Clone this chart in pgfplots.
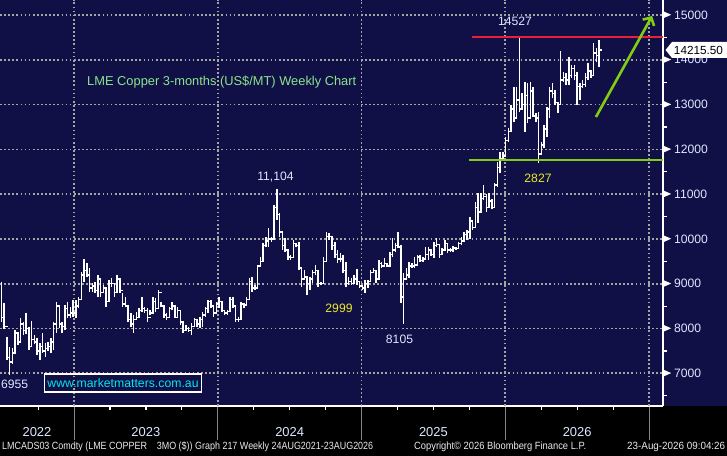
\documentclass[border=0pt]{standalone}
\usepackage{fontspec}
\setmainfont{Liberation Sans}
\usepackage{graphicx}
\usepackage{pgfplots}
\pgfplotsset{compat=1.18}
\usepackage{pgfplotstable}
\usetikzlibrary{arrows.meta}

\definecolor{navy}{RGB}{16,15,70}
\definecolor{gridgray}{RGB}{165,165,165}
\definecolor{lbl}{RGB}{222,232,255}
\definecolor{anngreen}{RGB}{140,228,140}
\definecolor{annyellow}{RGB}{235,235,40}
\definecolor{cyanw}{RGB}{0,232,240}
\definecolor{resred}{RGB}{235,30,60}
\definecolor{supgreen}{RGB}{130,205,20}
\definecolor{foot}{RGB}{235,235,235}

\pgfdeclareplotmark{rtick}{\pgfpathmoveto{\pgfpoint{-0.7bp}{0pt}}\pgfpathlineto{\pgfpoint{2.5bp}{0pt}}\pgfusepathqstroke}
\pgfdeclareplotmark{ltick}{\pgfpathmoveto{\pgfpoint{0.7bp}{0pt}}\pgfpathlineto{\pgfpoint{-2.5bp}{0pt}}\pgfusepathqstroke}

\newcommand\tri{\tikz[baseline={(0,-0.9bp)}]\fill[white] (0,0)--(8bp,3.5bp)--(0,7bp)--cycle;}
\newcommand\fs{\fontsize{12.2}{12.2}\selectfont}
\tikzset{gridline/.style={gridgray, line width=1.7bp, dash pattern=on 1.7bp off 2.4bp}}

\pgfplotstableread{
i h l c
0 9040 8150 8250
1 8570 8000 8050
2 7810 7300 7350
3 7590 6955 7250
4 7560 7200 7450
5 7960 7450 7900
6 7920 7630 7700
7 8230 7700 8100
8 8150 7860 7950
9 8340 7880 8000
10 8030 7520 7600
11 8160 7600 7750
12 7860 7650 7700
13 7790 7410 7500
14 7680 7300 7600
15 7900 7450 7500
16 7680 7360 7550
17 7700 7500 7600
18 7790 7450 7700
19 8150 7520 8100
20 8600 7900 8500
21 8500 8010 8100
22 8150 7900 8050
23 8520 7960 8450
24 8600 8230 8300
25 8490 8230 8350
26 8640 8260 8350
27 8640 8230 8500
28 8700 8450 8650
29 9260 8640 9200
30 9550 9040 9300
31 9460 9150 9200
32 9350 8820 8900
33 9020 8820 8950
34 9040 8790 8850
35 9190 8700 9100
36 9080 8700 8800
37 8970 8790 8900
38 8900 8480 8600
39 9080 8600 9000
40 9130 8930 9000
41 9020 8700 8800
42 9190 8790 9100
43 9080 8790 8850
44 8790 8480 8550
45 8700 8480 8500
46 8520 8150 8200
47 8340 8030 8100
48 8300 7900 8200
49 8370 8190 8250
50 8460 8260 8400
51 8700 8370 8450
52 8480 8340 8400
53 8460 8150 8250
54 8410 8300 8350
55 8700 8370 8600
56 8680 8370 8450
57 8860 8460 8800
58 8590 8480 8500
59 8500 8230 8300
60 8340 8190 8250
61 8480 8230 8450
62 8590 8410 8500
63 8500 8230 8250
64 8480 8235 8400
65 8400 8080 8150
66 8150 7900 7950
67 8080 7970 8000
68 8030 7920 7950
69 8120 7855 8050
70 8230 8030 8200
71 8200 8030 8100
72 8260 8010 8200
73 8370 8030 8300
74 8480 8260 8450
75 8640 8350 8600
76 8640 8460 8500
77 8500 8260 8350
78 8590 8350 8550
79 8700 8460 8600
80 8600 8370 8400
81 8400 8300 8350
82 8410 8300 8380
83 8700 8370 8650
84 8700 8460 8500
85 8525 8146 8200
86 8250 8150 8200
87 8590 8200 8550
88 8570 8460 8520
89 8700 8500 8650
90 9128 8650 9050
91 9150 8815 8900
92 8970 8860 8900
93 9420 8900 9400
94 9600 9374 9500
95 9910 9500 9850
96 10044 9820 9950
97 10245 9820 10000
98 10040 9930 10000
99 10760 10000 10700
100 11104 10420 10550
101 10580 10044 10150
102 10150 9754 9850
103 10022 9709 9750
104 9753 9530 9600
105 9650 9530 9580
106 9977 9580 9900
107 9900 9810 9850
108 9933 9307 9350
109 9351 8927 9100
110 9307 9084 9150
111 9150 8748 9000
112 9150 8860 9100
113 9307 9017 9250
114 9418 9196 9300
115 9300 8927 9000
116 9040 8972 9000
117 9597 9000 9500
118 10155 9485 10050
119 10133 9977 10050
120 10050 9754 9850
121 9933 9575 9650
122 9754 9463 9550
123 9687 9485 9550
124 9650 9240 9300
125 9485 8927 9000
126 9150 8972 9050
127 9128 8972 9000
128 9196 9000 9100
129 9330 8972 9050
130 9060 8905 8950
131 8972 8860 8900
132 9084 8793 9000
133 9084 8905 9050
134 9307 9050 9250
135 9351 9240 9300
136 9307 9017 9100
137 9530 9084 9450
138 9485 9351 9400
139 9575 9374 9450
140 9463 9374 9400
141 9700 9380 9650
142 10022 9600 9750
143 9900 9700 9850
144 10155 9800 9820
145 9860 8570 8700
146 9240 8105 9100
147 9350 9100 9200
148 9485 9128 9400
149 9463 9351 9400
150 9597 9351 9420
151 9642 9420 9600
152 9642 9485 9520
153 9600 9485 9550
154 9820 9530 9650
155 9820 9530 9750
156 9750 9620 9650
157 9933 9575 9850
158 10022 9820 9880
159 9880 9575 9650
160 9800 9650 9750
161 9977 9750 9900
162 9900 9687 9750
163 9798 9709 9750
164 9842 9709 9800
165 9820 9754 9790
166 9933 9790 9900
167 10044 9865 9950
168 10155 9933 10100
169 10200 9977 10150
170 10490 10000 10400
171 10400 10200 10250
172 10826 10245 10700
173 11028 10356 10600
174 11028 10580 10900
175 11206 10871 10950
176 11000 10600 10700
177 11028 10690 10850
178 10900 10670 10700
179 11250 10700 11200
180 11720 11160 11600
181 11943 11474 11800
182 11943 11800 11850
183 12276 11850 12200
184 12477 12164 12400
185 12990 12387 12900
186 13392 12611 12700
187 13392 12700 13100
188 14527 12834 12900
189 13258 12879 13000
190 13504 12387 13200
191 13482 12588 12700
192 13504 12700 13300
193 13392 12722 12750
194 12812 12611 12700
195 12834 11700 11900
196 12164 11900 12100
197 12544 12030 12450
198 12946 12276 12900
199 13392 12700 13300
200 13482 13147 13250
201 13325 12990 13050
202 13057 12812 13000
203 14196 13000 13550
204 13727 13504 13600
205 13705 13437 13550
206 14062 13437 13650
207 13883 13593 13800
208 13883 13549 13650
209 13727 12990 13400
210 13482 13102 13400
211 13549 13370 13450
212 13705 13392 13600
213 13928 13549 13750
214 13727 13593 13650
215 14375 13650 14150
216 14263 13951 14100
217 14442 13839 14215.5
}\bars

\begin{document}
\begin{tikzpicture}[x=1bp,y=1bp]
\fill[black] (0,0) rectangle (727,456);
\fill[navy] (0,50) rectangle (727,456);
% year separators below the axis
\foreach \xx in {74.05,217.8,361.55,505.3,649.05}{\draw[gridgray!80!black, line width=1bp] (\xx,50) -- (\xx,16);}
\begin{axis}[
  at={(0bp,50bp)}, anchor=south west,
  scale only axis, width=663bp, height=406bp,
  xmin=-0.508, xmax=240.15,
  ymin=6270, ymax=15335,
  axis x line*=bottom, axis y line*=right,
  axis line style={-, white, line width=1.3bp},
  tick align=outside,
  major tick length=0bp,
  minor tick length=4bp,
  minor tick style={white, line width=1.2bp},
  xtick={12.92,52.45,104.64,156.81,209.0},
  xticklabels={2022,2023,2024,2025,2026},
  minor xtick={13.33,39.42,52.46,65.51,91.6,104.64,117.69,143.78,156.82,169.87,195.95,209.0,222.04},
  ytick={7000,8000,...,15000},
  minor ytick={6500,7500,...,14500},
  scaled y ticks=false,
  yticklabel={\tri\hspace{3bp}\pgfmathprintnumber{\tick}},
  yticklabel style={font=\fs, text=lbl, anchor=west, inner sep=0pt,
    /pgf/number format/1000 sep={}, /pgf/number format/fixed, /pgf/number format/assume math mode=true},
  xticklabel style={font=\fontsize{13}{13}\selectfont, text=lbl, anchor=center, yshift=-26bp},
]
\pgfplotsinvokeforeach{7000,8000,9000,10000,11000,12000,13000,14000,15000}{
  \draw[gridline] (axis cs:-0.508,#1) -- (axis cs:240.15,#1);
}
\pgfplotsinvokeforeach{26.37,78.55,130.73,182.91,235.09}{
  \draw[gridline] (axis cs:#1,6270) -- (axis cs:#1,15335);
}
\addplot[only marks, mark=rtick, mark options={white, solid, line width=1.5bp},
  error bars/.cd, y dir=both, y explicit, error mark=none,
  error bar style={white, solid, line width=1.5bp}]
  table[x=i, y=c, y error plus expr=\thisrow{h}-\thisrow{c}, y error minus expr=\thisrow{c}-\thisrow{l}] {\bars};
\addplot[only marks, mark=ltick, mark options={white, solid, line width=1.5bp},
  skip coords between index={217}{218}]
  table[x expr=\thisrow{i}+1, y=c] {\bars};
\addplot[resred, line width=2bp] coordinates {(170.8,14500) (240.15,14500)};
\addplot[supgreen, line width=2.4bp] coordinates {(169.7,11762) (240.15,11762)};
\addplot[supgreen, line width=2.6bp, -{Straight Barb[length=6bp,width=13bp]}] coordinates {(215.8,12722) (236.2,14978)};
\end{axis}
% price box
\fill[white] (665.5,406)--(672,414)--(727,414)--(727,398)--(672,398)--cycle;
\node[text=black, font=\fontsize{11.8}{12}\selectfont, inner sep=0] at (698.5,406) {14215.50};
% annotations
\node[text=anngreen, font=\fontsize{12.9}{13}\selectfont, anchor=west, inner sep=0] at (87,374) {LME Copper 3-months (US\$/MT) Weekly Chart};
\node[text=lbl, font=\fs, inner sep=0] at (515,435) {14527};
\node[text=lbl, font=\fs, inner sep=0] at (275.5,279) {11,104};
\node[text=annyellow, font=\fs, inner sep=0] at (339,148) {2999};
\node[text=lbl, font=\fs, inner sep=0] at (399.5,117) {8105};
\node[text=annyellow, font=\fs, inner sep=0] at (538,278) {2827};
\node[text=lbl, font=\fs, anchor=west, inner sep=0] at (1,72) {6955};
\draw[white, line width=1.2bp] (44.5,64) rectangle (201.5,82);
\node[text=cyanw, font=\fontsize{12.3}{12.3}\selectfont, inner sep=0] at (123,73) {www.marketmatters.com.au};
% footer
\node[text=foot, font=\fontsize{10.5}{11}\selectfont, anchor=west, inner sep=0] at (2,9) {\resizebox{371bp}{\height}{LMCADS03 Comdty (LME COPPER\hspace{1.1em}3MO (\$)) Graph 217 Weekly 24AUG2021-23AUG2026}};
\node[text=foot, font=\fontsize{10.5}{11}\selectfont, anchor=west, inner sep=0] at (414,9) {\resizebox{172bp}{\height}{Copyright© 2026 Bloomberg Finance L.P.}};
\node[text=foot, font=\fontsize{10.5}{11}\selectfont, anchor=west, inner sep=0] at (627,9) {\resizebox{98bp}{\height}{23-Aug-2026 09:04:26}};
\pgfresetboundingbox
\useasboundingbox (0,0) rectangle (727,456);
\end{tikzpicture}
\end{document}
